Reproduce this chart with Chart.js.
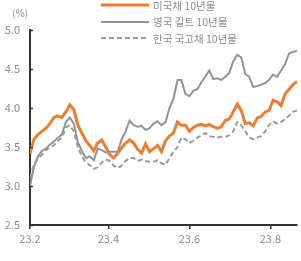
<!DOCTYPE html>
<html>
<head>
<meta charset="utf-8">
<title>10년물 국채 금리</title>
<script src="https://cdn.jsdelivr.net/npm/chart.js"></script>
<style>
    body { margin: 0; background: #fff; }
    .wrap { position: relative; width: 301px; height: 261px; font-family: "Noto Sans CJK KR", sans-serif; }
    .unit { position: absolute; left: 12px; top: 5px; font-size: 10px; color: #8c8c8c; }
    .legend { position: absolute; left: 101px; top: -3px; font-size: 10.5px; color: #8c8c8c; }
    .legend div { display: flex; align-items: center; height: 16.5px; }
    .legend svg { margin-right: 4px; }
</style>
</head>
<body>
<div class="wrap">
    <canvas id="rates" width="301" height="261"></canvas>
    <div class="unit">(%)</div>
    <div class="legend">
        <div><svg width="48" height="4"><line x1="0" y1="2" x2="48" y2="2" stroke="#ee7d31" stroke-width="3"/></svg>미국채 10년물</div>
        <div><svg width="48" height="4"><line x1="0" y1="2" x2="48" y2="2" stroke="#929292" stroke-width="2"/></svg>영국 길트 10년물</div>
        <div><svg width="48" height="4"><line x1="0" y1="2" x2="48" y2="2" stroke="#9a9a9a" stroke-width="2" stroke-dasharray="5 3"/></svg>한국 국고채 10년물</div>
    </div>
</div>
<script>
// days since 2023-02-01, every 3 days
const days = [0,3,6,9,12,15,18,21,24,27,30,33,36,39,42,45,48,51,54,57,60,63,66,69,72,75,78,81,84,87,90,93,96,99,102,105,108,111,114,117,120,123,126,129,132,135,138,141,144,147,150,153,156,159,162,165,168,171,174,177,180,183,186,189,192,195,198,201];

const usRates = [3.42,3.60,3.66,3.70,3.74,3.80,3.88,3.90,3.88,3.95,4.04,3.98,3.78,3.68,3.58,3.52,3.45,3.55,3.59,3.50,3.40,3.36,3.42,3.49,3.55,3.59,3.55,3.47,3.42,3.54,3.44,3.48,3.52,3.44,3.58,3.64,3.68,3.82,3.78,3.78,3.70,3.75,3.78,3.79,3.77,3.79,3.76,3.74,3.76,3.84,3.86,3.95,4.05,3.97,3.80,3.81,3.77,3.87,3.89,3.95,3.97,4.10,4.08,4.03,4.18,4.24,4.30,4.34];

const ukRates = [3.00,3.25,3.38,3.45,3.48,3.53,3.57,3.62,3.66,3.82,3.88,3.80,3.56,3.45,3.36,3.38,3.33,3.48,3.46,3.43,3.44,3.44,3.44,3.60,3.70,3.84,3.78,3.76,3.77,3.72,3.74,3.80,3.83,3.78,3.82,4.00,4.12,4.36,4.36,4.18,4.15,4.22,4.24,4.33,4.40,4.48,4.37,4.38,4.36,4.40,4.45,4.60,4.68,4.65,4.44,4.40,4.27,4.28,4.30,4.32,4.36,4.43,4.40,4.48,4.56,4.70,4.72,4.73];

const krRates = [3.10,3.28,3.35,3.40,3.46,3.50,3.52,3.58,3.62,3.75,3.78,3.70,3.50,3.38,3.30,3.27,3.22,3.24,3.30,3.34,3.32,3.26,3.23,3.26,3.32,3.36,3.36,3.32,3.34,3.32,3.31,3.31,3.33,3.29,3.27,3.36,3.44,3.50,3.62,3.60,3.55,3.58,3.62,3.65,3.68,3.64,3.63,3.62,3.63,3.63,3.65,3.70,3.82,3.78,3.70,3.62,3.60,3.62,3.64,3.70,3.78,3.83,3.80,3.82,3.86,3.90,3.95,3.97];

// x tick positions (days) and their labels
const xTickDays = [0, 59, 120, 181];
const xTickLabels = ['23.2', '23.4', '23.6', '23.8'];

const toPoints = vals => vals.map((v, i) => ({ x: days[i], y: v }));

// small inward tick marks on the y axis
const yTickMarks = {
    id: 'yTickMarks',
    afterDraw(chart) {
        const ctx = chart.ctx;
        const y = chart.scales.y;
        ctx.save();
        ctx.strokeStyle = '#333';
        ctx.lineWidth = 1.5;
        y.ticks.forEach(t => {
            const py = Math.round(y.getPixelForValue(t.value)) + 0.5;
            ctx.beginPath();
            ctx.moveTo(y.right, py);
            ctx.lineTo(y.right + 3, py);
            ctx.stroke();
        });
        ctx.restore();
    }
};

Chart.defaults.font.family = '"Noto Sans CJK KR", sans-serif';
Chart.defaults.color = '#8c8c8c';

new Chart(document.getElementById('rates'), {
    type: 'line',
    data: {
        datasets: [
            { label: '한국 국고채 10년물', data: toPoints(krRates), borderColor: '#9a9a9a', borderWidth: 2, borderDash: [5, 3], pointRadius: 0 },
            { label: '영국 길트 10년물', data: toPoints(ukRates), borderColor: '#929292', borderWidth: 2, pointRadius: 0 },
            { label: '미국채 10년물', data: toPoints(usRates), borderColor: '#ee7d31', borderWidth: 3, pointRadius: 0 }
        ]
    },
    options: {
        responsive: false,
        animation: false,
        layout: { padding: { top: 30, right: 4, left: 0, bottom: 0 } },
        plugins: { legend: { display: false }, tooltip: { enabled: false } },
        scales: {
            x: {
                type: 'linear',
                min: 0,
                max: 201,
                afterBuildTicks: s => { s.ticks = xTickDays.map(v => ({ value: v })); },
                afterFit: s => { s.height = 36; },
                ticks: {
                    font: { size: 11 },
                    padding: 3,
                    maxRotation: 0,
                    callback: (v) => xTickLabels[xTickDays.indexOf(v)]
                },
                grid: { drawOnChartArea: false, tickLength: 4, color: '#333', lineWidth: 1.5 },
                border: { color: '#333', width: 2 }
            },
            y: {
                min: 2.5,
                max: 5.0,
                afterFit: s => { s.width = 30; },
                ticks: {
                    stepSize: 0.5,
                    font: { size: 11 },
                    padding: 10,
                    callback: v => v.toFixed(1)
                },
                grid: { drawOnChartArea: false, drawTicks: false },
                border: { color: '#333', width: 2 }
            }
        }
    },
    plugins: [yTickMarks]
});
</script>
</body>
</html>
